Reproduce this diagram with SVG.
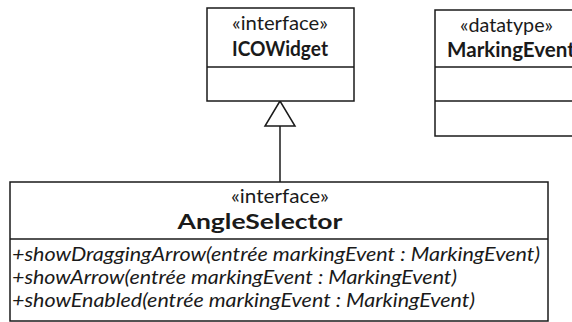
<svg xmlns="http://www.w3.org/2000/svg" width="572" height="322" viewBox="0 0 572 322">
<style>
.box{fill:#fff;stroke:#1a1a1a;stroke-width:1.5}
.ln{stroke:#1a1a1a;stroke-width:1.5;fill:none}
text{font-family:Lato,"Open Sans","Liberation Sans",sans-serif;fill:#1a1a1a}
.st{font-size:20px}
.nm{font-size:20px;font-weight:bold}
.op{font-size:20px;font-style:italic}
</style>
<g id="connectors">
<line class="ln" x1="280" y1="126" x2="280" y2="182"/>
<polygon class="box" points="280,101 265,126 295,126"/>
</g>
<g id="ICOWidget">
<rect class="box" x="207" y="8" width="147" height="93"/>
<line class="ln" x1="207" y1="67" x2="354" y2="67"/>
<text class="st" x="280" y="30" text-anchor="middle" textLength="96" lengthAdjust="spacingAndGlyphs">«interface»</text>
<text class="nm" x="280" y="56" text-anchor="middle" textLength="96" lengthAdjust="spacingAndGlyphs">ICOWidget</text>
</g>
<g id="MarkingEvent">
<rect class="box" x="435" y="10" width="160" height="126"/>
<line class="ln" x1="435" y1="67" x2="595" y2="67"/>
<line class="ln" x1="435" y1="101" x2="595" y2="101"/>
<text class="st" x="460" y="32" textLength="93" lengthAdjust="spacingAndGlyphs">«datatype»</text>
<text class="nm" x="447" y="57" textLength="128" lengthAdjust="spacingAndGlyphs">MarkingEvent</text>
</g>
<g id="AngleSelector">
<rect class="box" x="10" y="182" width="538" height="139"/>
<line class="ln" x1="10" y1="239" x2="548" y2="239"/>
<text class="st" x="280" y="203" text-anchor="middle" textLength="98" lengthAdjust="spacingAndGlyphs">«interface»</text>
<text class="nm" x="260" y="229" text-anchor="middle" textLength="165" lengthAdjust="spacingAndGlyphs">AngleSelector</text>
<text class="op" x="12" y="261" textLength="528" lengthAdjust="spacingAndGlyphs">+showDraggingArrow(entrée markingEvent : MarkingEvent)</text>
<text class="op" x="12" y="284" textLength="445" lengthAdjust="spacingAndGlyphs">+showArrow(entrée markingEvent : MarkingEvent)</text>
<text class="op" x="12" y="307" textLength="463" lengthAdjust="spacingAndGlyphs">+showEnabled(entrée markingEvent : MarkingEvent)</text>
</g>
</svg>
